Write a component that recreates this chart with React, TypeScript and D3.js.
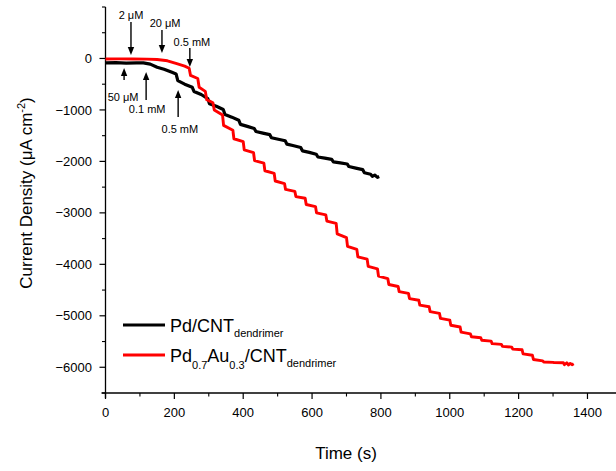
import React from 'react';
import * as d3 from 'd3';

// Pd/CNT_dendrimer : [time (s), current density (µA cm^-2)]
const pdCntData: [number, number][] = [
  [0, -85], [30, -80], [60, -90], [90, -85], [110, -85], [130, -110], [150, -170], [170, -210],
  [193, -270], [205, -300], [210, -430], [230, -500], [252, -560], [257, -640], [278, -700],
  [297, -780], [302, -880], [322, -930], [342, -990], [347, -1090], [367, -1140], [387, -1200],
  [392, -1280], [412, -1320], [432, -1360], [437, -1420], [457, -1450], [477, -1480],
  [482, -1540], [502, -1570], [522, -1600], [527, -1665], [547, -1695], [567, -1730],
  [572, -1795], [592, -1825], [612, -1860], [617, -1915], [637, -1935], [657, -1960],
  [662, -2010], [682, -2030], [702, -2050], [707, -2100], [727, -2130], [747, -2160],
  [752, -2220], [770, -2250], [775, -2290], [782, -2265], [790, -2310], [795, -2295],
];

// Pd0.7Au0.3/CNT_dendrimer
const pdAuCntData: [number, number][] = [
  [0, -10], [40, -8], [80, -10], [120, -12], [150, -20], [180, -45], [207, -100], [230, -150],
  [243, -190], [247, -330], [268, -390], [272, -560], [290, -640], [294, -800], [312, -860],
  [316, -1000], [340, -1100], [343, -1300], [370, -1395], [373, -1560], [400, -1615],
  [403, -1777], [430, -1831],
  [433, -1983], [460, -2033], [463, -2182], [490, -2232], [493, -2381], [520, -2431],
  [523, -2544], [550, -2582], [553, -2683], [580, -2716], [583, -2838], [610, -2878],
  [613, -3000], [640, -3040], [643, -3160], [670, -3205], [673, -3410], [700, -3480],
  [703, -3650], [730, -3710], [733, -3854], [760, -3898], [763, -4040], [790, -4087],
  [793, -4230], [820, -4277], [823, -4392], [850, -4430], [853, -4530], [880, -4564],
  [883, -4665], [910, -4698], [913, -4793], [940, -4825], [943, -4920], [970, -4952],
  [973, -5050], [1000, -5083], [1003, -5184], [1030, -5217], [1033, -5318], [1060, -5352],
  [1063, -5408], [1090, -5426], [1093, -5475], [1120, -5491], [1123, -5540], [1150, -5556],
  [1153, -5595], [1180, -5608], [1183, -5647], [1210, -5660], [1213, -5740], [1240, -5767],
  [1243, -5848], [1270, -5875], [1273, -5898], [1300, -5905], [1303, -5910], [1330, -5912],
  [1333, -5950], [1340, -5915], [1345, -5955], [1350, -5925], [1355, -5950], [1360, -5930],
];

const xMajorTicks = [0, 200, 400, 600, 800, 1000, 1200, 1400];
const xMinorTicks = [100, 300, 500, 700, 900, 1100, 1300, 1500];
const yMajorTicks = [-6000, -5000, -4000, -3000, -2000, -1000, 0];
const yMinorTicks = [-6500, -5500, -4500, -3500, -2500, -1500, -500, 500, 1000];

type Note = { label: string; t: number; tail: number; tip: number; textT: number; textV: number };
const annotations: Note[] = [
  { label: '2 μM', t: 74, tail: 709, tip: 68, textT: 74, textV: 767 },
  { label: '20 μM', t: 164, tail: 554, tip: 107, textT: 173, textV: 612 },
  { label: '0.5 mM', t: 245, tail: 204, tip: -165, textT: 251, textV: 243 },
  { label: '50 μM', t: 54, tail: -418, tip: -185, textT: 51, textV: -826 },
  { label: '0.1 mM', t: 118, tail: -806, tip: -262, textT: 121, textV: -1059 },
  { label: '0.5 mM', t: 211, tail: -1137, tip: -612, textT: 216, textV: -1447 },
];

const FONT = '"Liberation Sans", Arial, Helvetica, sans-serif';

export default function App() {
  const W = 616;
  const H = 471;
  const x = d3.scaleLinear().domain([0, 1500]).range([105.5, 621.9]);
  const y = d3.scaleLinear().domain([-6500, 1000]).range([393, 7]);
  const line = d3
    .line<[number, number]>()
    .x((d) => x(d[0]))
    .y((d) => y(d[1]));

  const x0 = x(0);
  const yBase = y(-6500);

  return (
    <svg
      width={W}
      height={H}
      viewBox={`0 0 ${W} ${H}`}
      style={{ position: 'absolute', left: 0, top: 0, background: '#fff' }}
      fontFamily={FONT}
    >
      <rect x={0} y={0} width={W} height={H} fill="#fff" />

      {/* axes */}
      <line x1={x0} x2={x0} y1={y(1000)} y2={yBase + 5} stroke="#000" strokeWidth={1.3} />
      <line x1={x0 - 4} x2={W + 10} y1={yBase} y2={yBase} stroke="#000" strokeWidth={1.3} />

      {yMajorTicks.map((v) => (
        <g key={'ym' + v}>
          <line x1={x0 - 6} x2={x0} y1={y(v)} y2={y(v)} stroke="#000" strokeWidth={1.2} />
          <text x={92} y={y(v) + 4.6} textAnchor="end" fontSize={13} fill="#000">
            {v < 0 ? '\u2212' + Math.abs(v) : String(v)}
          </text>
        </g>
      ))}
      {yMinorTicks.map((v) => (
        <line key={'yn' + v} x1={x0 - 3.5} x2={x0} y1={y(v)} y2={y(v)} stroke="#000" strokeWidth={1.1} />
      ))}
      {xMajorTicks.map((t) => (
        <g key={'xm' + t}>
          <line x1={x(t)} x2={x(t)} y1={yBase} y2={yBase + 6} stroke="#000" strokeWidth={1.2} />
          <text x={x(t)} y={416.5} textAnchor="middle" fontSize={13} fill="#000">
            {t}
          </text>
        </g>
      ))}
      {xMinorTicks.map((t) => (
        <line key={'xn' + t} x1={x(t)} x2={x(t)} y1={yBase} y2={yBase + 3.5} stroke="#000" strokeWidth={1.1} />
      ))}

      {/* axis titles */}
      <text x={346} y={459} textAnchor="middle" fontSize={17} fill="#000">
        Time (s)
      </text>
      <text
        transform={`translate(32,193) rotate(-90)`}
        textAnchor="middle"
        fontSize={17}
        fill="#000"
      >
        Current Density (μA cm
        <tspan fontSize={11} dy={-7}>-2</tspan>
        <tspan dy={7}>)</tspan>
      </text>

      {/* data */}
      <path d={line(pdCntData) || ''} fill="none" stroke="#000" strokeWidth={3.2} strokeLinejoin="round" />
      <path d={line(pdAuCntData) || ''} fill="none" stroke="#ff0000" strokeWidth={2.9} strokeLinejoin="round" />

      {/* annotations */}
      {annotations.map((a, i) => {
        const ax = x(a.t);
        const yTail = y(a.tail);
        const yTip = y(a.tip);
        const dir = yTip > yTail ? 1 : -1;
        const headLen = 8;
        const headW = 3.2;
        const yBaseHead = yTip - dir * headLen;
        return (
          <g key={'a' + i}>
            <line x1={ax} x2={ax} y1={yTail} y2={yBaseHead} stroke="#000" strokeWidth={1.4} />
            <path
              d={`M${ax - headW},${yBaseHead} L${ax + headW},${yBaseHead} L${ax},${yTip} Z`}
              fill="#000"
            />
            <text x={x(a.textT)} y={y(a.textV)} textAnchor="middle" fontSize={11} fill="#000">
              {a.label}
            </text>
          </g>
        );
      })}

      {/* legend */}
      <line x1={123} x2={165} y1={325} y2={325} stroke="#000" strokeWidth={2.8} />
      <text x={170} y={332} fontSize={18} fill="#000">
        Pd/CNT
        <tspan fontSize={11} dy={5}>dendrimer</tspan>
      </text>
      <line x1={123} x2={165} y1={355} y2={355} stroke="#ff0000" strokeWidth={2.8} />
      <text x={170} y={362} fontSize={18} fill="#000">
        Pd
        <tspan fontSize={11} dy={7}>0.7</tspan>
        <tspan dy={-7}>Au</tspan>
        <tspan fontSize={11} dy={7}>0.3</tspan>
        <tspan dy={-7}>/CNT</tspan>
        <tspan fontSize={11} dy={5}>dendrimer</tspan>
      </text>
    </svg>
  );
}
